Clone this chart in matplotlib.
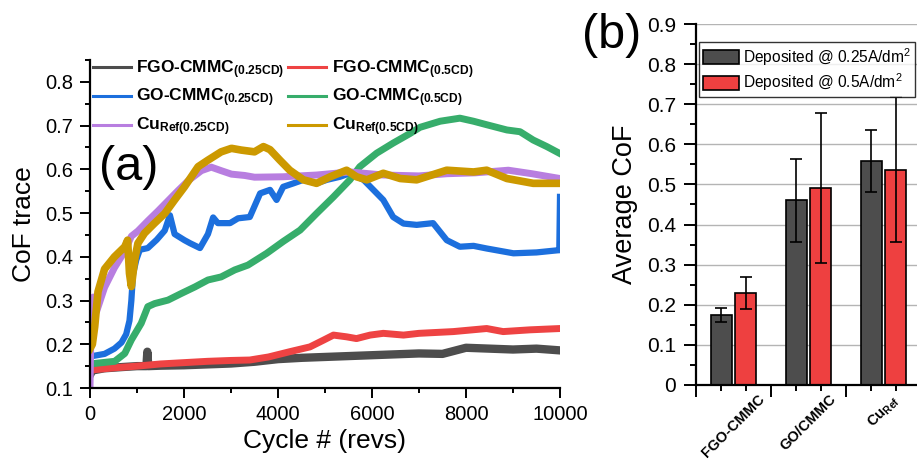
import matplotlib
matplotlib.use("Agg")
import matplotlib.pyplot as plt
from matplotlib.ticker import MultipleLocator, FuncFormatter
import numpy as np

plt.rcParams['font.family'] = ['Liberation Sans', 'DejaVu Sans']
plt.rcParams['mathtext.fontset'] = 'custom'
plt.rcParams['mathtext.rm'] = 'Liberation Sans'
plt.rcParams['mathtext.bf'] = 'Liberation Sans:bold'
plt.rcParams['mathtext.it'] = 'Liberation Sans:italic'

# ---------------- Panel (a) data: CoF traces ----------------
fgo25_c = [0, 50, 300, 700, 1000, 1200, 1220, 1240, 1500, 2000, 2500, 3000, 3500, 4000, 4500,
           5000, 5500, 6000, 6500, 7000, 7500, 8000, 8500, 9000, 9500, 10000]
fgo25_v = [0.13, 0.14, 0.145, 0.148, 0.150, 0.150, 0.183, 0.150, 0.151, 0.152, 0.154, 0.156, 0.160,
           0.166, 0.169, 0.171, 0.173, 0.175, 0.177, 0.179, 0.178, 0.192, 0.190, 0.188, 0.190, 0.186]

fgo5_c = [0, 100, 500, 1000, 1500, 2000, 2500, 3000, 3400, 3800, 4250, 4680, 4960, 5180, 5460,
          5670, 5960, 6240, 6670, 7000, 7730, 8440, 8790, 9360, 10000]
fgo5_v = [0.14, 0.142, 0.146, 0.150, 0.155, 0.158, 0.161, 0.163, 0.164, 0.171, 0.183, 0.194, 0.209,
          0.221, 0.217, 0.213, 0.221, 0.225, 0.221, 0.225, 0.229, 0.236, 0.229, 0.233, 0.236]

go25_c = [0, 310, 520, 670, 770, 840, 880, 915, 985, 1060, 1230, 1420, 1590, 1700, 1800, 2010,
          2130, 2340, 2510, 2620, 2720, 2980, 3150, 3400, 3620, 3830, 3970, 4110, 4330, 4540,
          4820, 5040, 5320, 5530, 5820, 6030, 6240, 6450, 6670, 6950, 7300, 7590, 7870, 8160,
          8440, 9010, 9500, 9960, 9985, 10000]
go25_v = [0.172, 0.178, 0.19, 0.204, 0.223, 0.254, 0.30, 0.36, 0.393, 0.416, 0.42, 0.439, 0.46,
          0.495, 0.452, 0.438, 0.431, 0.42, 0.452, 0.49, 0.477, 0.477, 0.488, 0.491, 0.545, 0.553,
          0.53, 0.56, 0.568, 0.576, 0.568, 0.576, 0.583, 0.591, 0.576, 0.553, 0.53, 0.491, 0.476,
          0.473, 0.477, 0.438, 0.423, 0.425, 0.419, 0.408, 0.41, 0.415, 0.415, 0.537]

go5_c = [0, 170, 525, 740, 880, 1090, 1230, 1375, 1660, 1940, 2230, 2510, 2790, 3080, 3360, 3760,
         4110, 4470, 4820, 5180, 5530, 5740, 6100, 6450, 6810, 7020, 7450, 7870, 8160, 8440, 8870,
         9150, 9430, 9720, 10000]
go5_v = [0.155, 0.157, 0.161, 0.179, 0.21, 0.248, 0.286, 0.293, 0.301, 0.316, 0.331, 0.347, 0.354,
         0.37, 0.381, 0.408, 0.435, 0.461, 0.499, 0.537, 0.576, 0.606, 0.637, 0.66, 0.682, 0.696,
         0.71, 0.717, 0.71, 0.702, 0.69, 0.686, 0.667, 0.652, 0.636]

cu25_c = [0, 30, 70, 140, 310, 520, 740, 880, 1020, 1230, 1450, 1660, 1870, 2090, 2370, 2580,
          2790, 3010, 3290, 3500, 4110, 4820, 5530, 6240, 7000, 7600, 8200, 8900, 9400, 10000]
cu25_v = [0.1, 0.30, 0.308, 0.275, 0.33, 0.375, 0.413, 0.447, 0.459, 0.482, 0.505, 0.528, 0.551,
          0.574, 0.597, 0.605, 0.597, 0.589, 0.586, 0.582, 0.583, 0.587, 0.594, 0.587, 0.585, 0.59,
          0.592, 0.598, 0.59, 0.579]

cu5_c = [0, 50, 100, 170, 310, 520, 740, 800, 840, 880, 950, 1020, 1160, 1375, 1590, 1800, 2010,
         2300, 2510, 2790, 3010, 3220, 3500, 3690, 3830, 4040, 4250, 4540, 4820, 5110, 5460, 5670,
         5890, 6240, 6600, 6950, 7590, 8160, 8440, 8870, 9430, 10000]
cu5_v = [0.19, 0.2, 0.24, 0.32, 0.372, 0.40, 0.423, 0.438, 0.362, 0.332, 0.393, 0.431, 0.454, 0.477,
         0.499, 0.53, 0.56, 0.606, 0.621, 0.64, 0.648, 0.644, 0.64, 0.652, 0.645, 0.621, 0.598,
         0.576, 0.568, 0.583, 0.598, 0.583, 0.576, 0.591, 0.579, 0.576, 0.598, 0.594, 0.598, 0.579,
         0.568, 0.568]

series_labels = [r'FGO-CMMC$_{\mathbf{(0.25CD)}}$', r'FGO-CMMC$_{\mathbf{(0.5CD)}}$',
                 r'GO-CMMC$_{\mathbf{(0.25CD)}}$', r'GO-CMMC$_{\mathbf{(0.5CD)}}$',
                 r'Cu$_{\mathbf{Ref(0.25CD)}}$', r'Cu$_{\mathbf{Ref(0.5CD)}}$']
series_colors = ['#4D4D4D', '#EE4343', '#1C6FDD', '#37AD6B', '#B87EE0', '#CC9900']

# ---------------- Panel (b) data: average CoF ----------------
groups = ['FGO-CMMC', 'GO/CMMC', r'Cu$_{\mathbf{Ref}}$']
avg_025 = [0.174, 0.460, 0.558]
err_025 = [0.017, 0.103, 0.077]
avg_05 = [0.230, 0.491, 0.537]
err_05 = [0.040, 0.186, 0.181]
bar_labels = [r'Deposited @ 0.25A/dm$^2$', r'Deposited @ 0.5A/dm$^2$']

fig = plt.figure(figsize=(9.17, 4.59), dpi=100)

# ---------------- Panel (a) ----------------
ax = fig.add_axes([90/917, 1-388/459, 470/917, 328/459])
xs = [fgo25_c, fgo5_c, go25_c, go5_c, cu25_c, cu5_c]
ys = [fgo25_v, fgo5_v, go25_v, go5_v, cu25_v, cu5_v]
lws = [6.0, 5.0, 4.5, 5.0, 5.0, 5.5]
handles = []
for c, v, lab, col, lw in zip(xs, ys, series_labels, series_colors, lws):
    h, = ax.plot(c, v, color=col, lw=lw, label=lab, solid_joinstyle='round')
    handles.append(h)

ax.set_xlim(0, 10000)
ax.set_ylim(0.1, 0.85)
ax.xaxis.set_major_locator(MultipleLocator(2000))
ax.xaxis.set_minor_locator(MultipleLocator(1000))
ax.yaxis.set_major_locator(MultipleLocator(0.1))
ax.yaxis.set_minor_locator(MultipleLocator(0.05))
ax.yaxis.set_major_formatter(FuncFormatter(lambda v, p: f'{v:.1f}'))
for s in ['top', 'right']:
    ax.spines[s].set_visible(False)
for s in ['left', 'bottom']:
    ax.spines[s].set_linewidth(1.6)
ax.tick_params(which='major', direction='out', length=7, width=1.4, labelsize=14.5, pad=5)
ax.tick_params(which='minor', direction='out', length=3.6, width=1.4)
ax.set_xlabel('Cycle # (revs)', fontsize=19, labelpad=4)
ax.set_ylabel('CoF trace', fontsize=19, labelpad=7)

order = [0, 2, 4, 1, 3, 5]
leg_a = ax.legend([handles[i] for i in order], [series_labels[i] for i in order],
                  loc='upper left', bbox_to_anchor=(93/917, 1-58/459), bbox_transform=fig.transFigure,
                  ncol=2, frameon=False, prop={'weight': 'bold', 'size': 12.5},
                  handlelength=2.2, handletextpad=0.3, columnspacing=0.2, labelspacing=0.36,
                  borderpad=0, borderaxespad=0)
for h in leg_a.get_lines():
    h.set_linewidth(2.2)

fig.text(129/917, 1-168/459, '(a)', fontsize=35, ha='center', va='center')

# ---------------- Panel (b) ----------------
axb = fig.add_axes([696/917, 1-385/459, 225/917, 361/459])
centers = np.arange(len(groups)) + 0.5
off = 0.165
w = 0.28
axb.set_axisbelow(True)
axb.yaxis.grid(True, color='#B4B4B4', lw=1.0)
axb.bar(centers - off, avg_025, w, yerr=err_025, color='#4D4D4D', edgecolor='black', lw=1.2,
        capsize=4.5, error_kw={'elinewidth': 1.2, 'capthick': 1.2}, label=bar_labels[0], zorder=2)
axb.bar(centers + off, avg_05, w, yerr=err_05, color='#EE4040', edgecolor='black', lw=1.2,
        capsize=4.5, error_kw={'elinewidth': 1.2, 'capthick': 1.2}, label=bar_labels[1], zorder=2)
axb.set_xlim(0, 3)
axb.set_ylim(0, 0.9)
axb.yaxis.set_major_locator(MultipleLocator(0.1))
axb.yaxis.set_minor_locator(MultipleLocator(0.05))
axb.yaxis.set_major_formatter(FuncFormatter(lambda v, p: '0' if abs(v) < 1e-9 else f'{v:.1f}'))
axb.set_xticks(np.arange(len(groups) + 1))
axb.set_xticklabels([])
axb.set_xticks(np.concatenate([centers - off, centers + off]), minor=True)
for s in ['top', 'right']:
    axb.spines[s].set_visible(False)
for s in ['left', 'bottom']:
    axb.spines[s].set_linewidth(1.6)
axb.tick_params(which='major', direction='out', length=8.5, width=1.4, labelsize=15, pad=6)
axb.tick_params(which='minor', direction='out', length=4.3, width=1.4)
gl = axb.get_ygridlines()
gl[0].set_visible(False)
gl[-1].set_visible(False)
for cx, g in zip(centers, groups):
    axb.text(cx, -0.02, g, transform=axb.get_xaxis_transform(), rotation=45, ha='center', va='top',
             fontsize=10.5, fontweight='bold')
axb.set_ylabel('Average CoF', fontsize=19.5, labelpad=6)

leg_b = axb.legend(loc='upper left', bbox_to_anchor=(699/917, 1-42/459), bbox_transform=fig.transFigure,
                   frameon=True, fancybox=False, edgecolor='black', fontsize=11.2,
                   handlelength=2.3, handleheight=1.0, handletextpad=0.3, labelspacing=0.25,
                   borderpad=0.25, borderaxespad=0)
leg_b.get_frame().set_linewidth(1.0)

fig.text(612/917, 1-36/459, '(b)', fontsize=35, ha='center', va='center')

fig.savefig('out.png', dpi=100)
